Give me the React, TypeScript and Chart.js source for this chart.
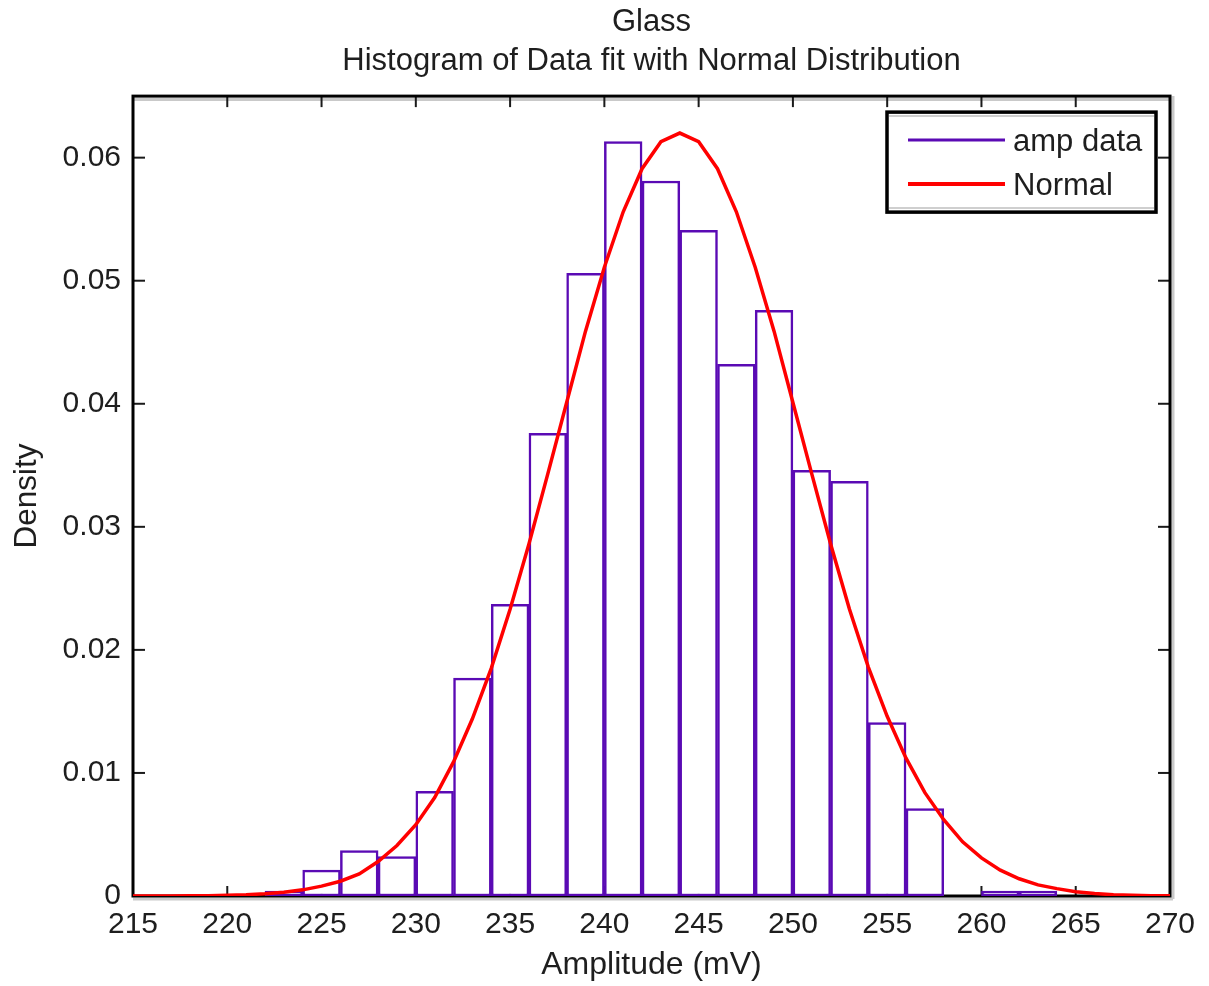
import React, { useEffect, useRef } from 'react';
import { Chart, registerables } from 'chart.js';

Chart.register(...registerables);

// ---- data ----
const titleLines = ['Glass', 'Histogram of Data fit with Normal Distribution'];
const xAxisLabel = 'Amplitude (mV)';
const yAxisLabel = 'Density';
const seriesNames = ['amp data', 'Normal'];

// histogram bins (width 2), centers and density heights
const binCenters = [223, 225, 227, 229, 231, 233, 235, 237, 239, 241, 243, 245, 247, 249, 251, 253, 255, 257, 259, 261, 263];
const binDensity = [0.0004, 0.0021, 0.0037, 0.0032, 0.0085, 0.0177, 0.0237, 0.0376, 0.0506, 0.0613, 0.0581, 0.0541, 0.0432, 0.0476, 0.0346, 0.0337, 0.0141, 0.0071, 0, 0.0004, 0.0004];

// fitted normal curve, read at each integer amplitude
const fitX = [215, 216, 217, 218, 219, 220, 221, 222, 223, 224, 225, 226, 227, 228, 229, 230, 231, 232, 233, 234, 235, 236, 237, 238, 239, 240, 241, 242, 243, 244, 245, 246, 247, 248, 249, 250, 251, 252, 253, 254, 255, 256, 257, 258, 259, 260, 261, 262, 263, 264, 265, 266, 267, 268, 269, 270];
const fitY = [0, 0, 0, 0.00002, 0.00003, 0.00006, 0.0001, 0.00018, 0.0003, 0.0005, 0.0008, 0.0012, 0.0018, 0.0028, 0.0041, 0.0058, 0.008, 0.0109, 0.0144, 0.0185, 0.0233, 0.0286, 0.0343, 0.0401, 0.0459, 0.0511, 0.0556, 0.0591, 0.0613, 0.062, 0.0613, 0.0591, 0.0556, 0.0511, 0.0459, 0.0401, 0.0343, 0.0286, 0.0233, 0.0186, 0.0146, 0.0112, 0.0084, 0.0062, 0.0044, 0.0031, 0.0021, 0.0014, 0.0009, 0.0006, 0.00035, 0.0002, 0.0001, 0.00006, 0.00003, 0.00002];

const xMin = 215;
const xMax = 270;
const xStep = 5;
const yMin = 0;
const yMax = 0.065;
const yStep = 0.01;

// ---- styles ----
const FONT = '"Liberation Sans", Arial, Helvetica, sans-serif';
const BAR_COLOR = '#5a0ab4';
const CURVE_COLOR = '#ff0000';
const TEXT_COLOR = '#1e1e1e';

function seg(ctx: CanvasRenderingContext2D, x1: number, y1: number, x2: number, y2: number) {
  ctx.beginPath();
  ctx.moveTo(x1, y1);
  ctx.lineTo(x2, y2);
  ctx.stroke();
}

const framePlugin = {
  id: 'matlabFrame',
  beforeDatasetsDraw(chart: any) {
    const { ctx, chartArea } = chart;
    const { left, top, right, bottom } = chartArea;
    const xs = chart.scales.x;
    const ys = chart.scales.y;
    ctx.save();
    ctx.strokeStyle = '#c9c9c9';
    ctx.lineWidth = 3;
    seg(ctx, left, top + 3.5, right, top + 3.5);
    seg(ctx, left, bottom + 3, right + 3, bottom + 3);
    seg(ctx, right + 3, top, right + 3, bottom + 3);
    ctx.strokeStyle = '#1a1a1a';
    ctx.lineWidth = 2;
    xs.ticks.forEach((t: any) => {
      const px = xs.getPixelForValue(t.value);
      seg(ctx, px, top, px, top + 11);
      seg(ctx, px, bottom, px, bottom - 10);
    });
    ys.ticks.forEach((t: any) => {
      const py = ys.getPixelForValue(t.value);
      seg(ctx, left, py, left + 12, py);
      seg(ctx, right, py, right - 12, py);
    });
    ctx.strokeStyle = '#000';
    ctx.lineWidth = 3;
    ctx.strokeRect(left, top, right - left, bottom - top);
    ctx.restore();
  },
};

const legendPlugin = {
  id: 'matlabLegend',
  afterDraw(chart: any) {
    const { ctx, chartArea } = chart;
    const w = 269;
    const h = 100;
    const bx = chartArea.right - 14 - w;
    const by = chartArea.top + 16;
    ctx.save();
    ctx.fillStyle = '#fff';
    ctx.fillRect(bx, by, w, h);
    ctx.strokeStyle = '#cfcfcf';
    ctx.lineWidth = 2;
    seg(ctx, bx + 2, by + 4, bx + w - 2, by + 4);
    seg(ctx, bx + 2, by + h - 4, bx + w - 2, by + h - 4);
    ctx.strokeStyle = '#000';
    ctx.lineWidth = 3.5;
    ctx.strokeRect(bx, by, w, h);
    ctx.font = `31px ${FONT}`;
    ctx.textBaseline = 'middle';
    ctx.textAlign = 'left';
    chart.data.datasets.forEach((ds: any, i: number) => {
      const ly = by + 28 + i * 44;
      ctx.strokeStyle = ds.borderColor;
      ctx.lineWidth = i === 0 ? 3 : 4;
      seg(ctx, bx + 21, ly, bx + 118, ly);
      ctx.fillStyle = TEXT_COLOR;
      ctx.fillText(ds.label, bx + 126, ly + 2);
    });
    ctx.restore();
  },
};

export default function App() {
  const canvasRef = useRef<HTMLCanvasElement | null>(null);

  useEffect(() => {
    if (!canvasRef.current) return;
    const chart = new Chart(canvasRef.current, {
      type: 'bar',
      data: {
        datasets: [
          {
            type: 'bar',
            label: seriesNames[0],
            data: binCenters.map((c, i) => ({ x: c, y: binDensity[i] })),
            backgroundColor: '#ffffff',
            borderColor: BAR_COLOR,
            borderWidth: 2.5,
            borderSkipped: false,
            barPercentage: 1,
            categoryPercentage: 1,
            order: 1,
          } as any,
          {
            type: 'line',
            label: seriesNames[1],
            data: fitX.map((x, i) => ({ x, y: fitY[i] })),
            borderColor: CURVE_COLOR,
            borderWidth: 3.5,
            pointRadius: 0,
            tension: 0,
            fill: false,
            order: 0,
          } as any,
        ],
      },
      options: {
        responsive: false,
        animation: false,
        events: [],
        layout: { padding: { left: 0, right: 39, top: 0, bottom: 0 } },
        plugins: {
          legend: { display: false },
          tooltip: { enabled: false },
          title: {
            display: true,
            text: titleLines,
            color: TEXT_COLOR,
            fullSize: false,
            font: { family: FONT, size: 31, weight: 'normal', lineHeight: 1.26 },
            padding: { top: 3, bottom: 15 },
          },
        },
        scales: {
          x: {
            type: 'linear',
            min: xMin,
            max: xMax,
            offset: false,
            grid: { display: false, drawTicks: false },
            border: { display: false },
            ticks: {
              stepSize: xStep,
              autoSkip: false,
              maxRotation: 0,
              includeBounds: false,
              padding: 11,
              color: TEXT_COLOR,
              font: { family: FONT, size: 30 },
            },
            title: {
              display: true,
              text: xAxisLabel,
              color: TEXT_COLOR,
              font: { family: FONT, size: 32, lineHeight: 1.2 },
              padding: { top: 0, bottom: 2 },
            },
            afterFit: (s: any) => {
              s.height = 90;
            },
          },
          y: {
            type: 'linear',
            min: yMin,
            max: yMax,
            grid: { display: false, drawTicks: false },
            border: { display: false },
            ticks: {
              stepSize: yStep,
              includeBounds: false,
              padding: 12,
              color: TEXT_COLOR,
              font: { family: FONT, size: 30 },
              callback: (v: any) => String(Math.round(Number(v) * 1000) / 1000),
            },
            title: {
              display: true,
              text: yAxisLabel,
              color: TEXT_COLOR,
              font: { family: FONT, size: 31.5, lineHeight: 1.2 },
              padding: { top: 8, bottom: 0 },
            },
            afterFit: (s: any) => {
              s.width = 133;
            },
          },
        },
      } as any,
      plugins: [framePlugin, legendPlugin],
    });
    return () => chart.destroy();
  }, []);

  return (
    <div style={{ position: 'absolute', left: 0, top: 0, width: 1209, height: 986, background: '#fff' }}>
      <canvas ref={canvasRef} width={1209} height={986} style={{ display: 'block' }} />
    </div>
  );
}
